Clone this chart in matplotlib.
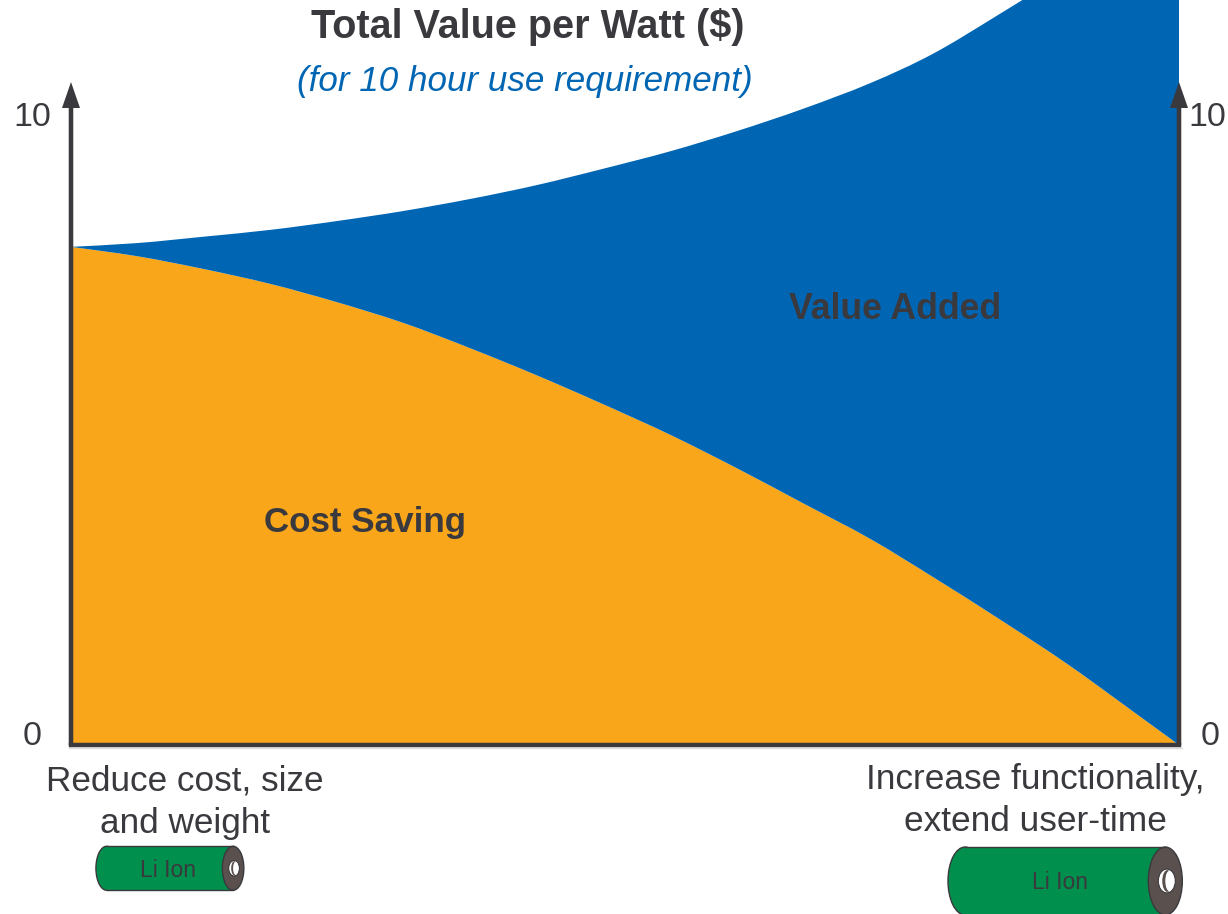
# Total value per watt chart, cost saving vs value added
import matplotlib
matplotlib.use("Agg")
import matplotlib.pyplot as plt
from matplotlib.patches import Ellipse, PathPatch, Rectangle
from matplotlib.path import Path

plt.rcParams["font.family"] = ["Liberation Sans", "DejaVu Sans"]

# === data ===
x_vals = [0, 0.6, 1.19, 1.8, 2.4, 3.0, 3.6, 4.2, 4.8, 5.41, 6.01, 6.6, 7.21, 7.78, 8.38, 8.99, 9.58, 10]
cost_saving = [7.92, 7.77, 7.57, 7.33, 7.04, 6.71, 6.31, 5.88, 5.42, 4.93, 4.40, 3.85, 3.28, 2.67, 2.00, 1.29, 0.54, 0.0]
total_value = [7.92, 7.98, 8.08, 8.19, 8.33, 8.49, 8.68, 8.90, 9.16, 9.44, 9.76, 10.11, 10.52, 10.99, 11.62, 12.29, 12.96, 13.43]

DARK = "#3a393e"
ORANGE = "#f9a61a"
BLUE = "#0066b3"
GREEN = "#008f4c"
CAP = "#5a504d"

# === figure, one unit is 110.8 px across and 62.9 px up ===
fig = plt.figure(figsize=(12.28, 9.14), dpi=100)
ax = fig.add_axes([0, 0, 1, 1])
ax.set_xlim(-71 / 110.8, 1157 / 110.8)
ax.set_ylim(-169 / 62.9, 745 / 62.9)
ax.axis("off")


# bezier segments through the read points so the edges stay smooth
def curve_segments(xs, ys):
    verts, codes = [], []
    n = len(xs)
    for i in range(n - 1):
        a, b = max(i - 1, 0), min(i + 2, n - 1)
        verts.append((xs[i] + (xs[i + 1] - xs[a]) / 6, ys[i] + (ys[i + 1] - ys[a]) / 6))
        verts.append((xs[i + 1] - (xs[b] - xs[i]) / 6, ys[i + 1] - (ys[b] - ys[i]) / 6))
        verts.append((xs[i + 1], ys[i + 1]))
        codes += [Path.CURVE4] * 3
    return verts, codes


orange_v, orange_c = curve_segments(x_vals, cost_saving)
blue_v, blue_c = curve_segments(x_vals, total_value)

verts = [(0, 0), (0, cost_saving[0])] + orange_v + [(0, 0)]
codes = [Path.MOVETO, Path.LINETO] + orange_c + [Path.CLOSEPOLY]
ax.add_patch(PathPatch(Path(verts, codes), fc=ORANGE, ec="none", lw=0))

# blue area runs along the top curve, then back down the orange curve
back_v, back_c = curve_segments(x_vals[::-1], cost_saving[::-1])
verts = [(0, total_value[0])] + blue_v + [(10, cost_saving[-1])] + back_v + [(0, total_value[0])]
codes = [Path.MOVETO] + blue_c + [Path.LINETO] + back_c + [Path.CLOSEPOLY]
ax.add_patch(PathPatch(Path(verts, codes), fc=BLUE, ec="none", lw=0))

# === axes with arrow heads ===
ax.plot([-0.02, 10.03], [-0.05, -0.05], color="#dcdcdc", lw=1)
ax.plot([0, 10], [0, 0], color=DARK, lw=3.2, solid_capstyle="projecting")
for xpos in [0, 10]:
    ax.arrow(xpos, 0, 0, 10.54, width=0.041, head_width=0.1625, head_length=0.413,
             length_includes_head=True, fc=DARK, ec="none", lw=0)

# tick labels
ax.text(-0.35, 0.14, "0", fontsize=24.5, color=DARK, ha="center", va="center")
ax.text(-0.35, 9.97, "10", fontsize=24.5, color=DARK, ha="center", va="center")
ax.text(10.28, 0.14, "0", fontsize=24.5, color=DARK, ha="center", va="center")
ax.text(10.26, 9.97, "10", fontsize=24.5, color=DARK, ha="center", va="center")

# === text ===
ax.text(4.12, 11.41, "Total Value per Watt ($)", fontsize=28.5, fontweight="bold",
        color=DARK, ha="center", va="center")
ax.text(4.10, 10.55, "(for 10 hour use requirement)", fontsize=25.2, style="italic",
        color=BLUE, ha="center", va="center")
ax.text(7.44, 6.93, "Value Added", fontsize=25.7, fontweight="bold", color=DARK,
        ha="center", va="center")
ax.text(2.65, 3.53, "Cost Saving", fontsize=25.2, fontweight="bold", color=DARK,
        ha="center", va="center")
ax.text(1.03, -0.905, "Reduce cost, size\nand weight", fontsize=25.3, color=DARK,
        ha="center", va="center", linespacing=1.37)
ax.text(8.70, -0.88, "Increase functionality,\nextend user-time", fontsize=25.4, color=DARK,
        ha="center", va="center", linespacing=1.33)


# === batteries ===
def battery(x0, x1, yc, h, cap_w, font):
    ax.add_patch(Ellipse((x0 + cap_w / 2, yc), cap_w, h, fc=GREEN, ec=DARK, lw=1))
    ax.add_patch(Rectangle((x0 + cap_w / 2, yc - h / 2), x1 - x0 - cap_w, h, fc=GREEN, ec="none"))
    ax.plot([x0 + cap_w / 2, x1 - cap_w / 2], [yc + h / 2, yc + h / 2], color=DARK, lw=1)
    ax.plot([x0 + cap_w / 2, x1 - cap_w / 2], [yc - h / 2, yc - h / 2], color=DARK, lw=1)
    ax.add_patch(Ellipse((x1 - cap_w / 2, yc), cap_w, h, fc=CAP, ec=DARK, lw=1))
    # hole in the end cap
    ax.add_patch(Ellipse((x1 - cap_w * 0.456, yc), cap_w * 0.5, h * 0.35, fc="white", ec=DARK, lw=0.8))
    ax.add_patch(Ellipse((x1 - cap_w * 0.44, yc), cap_w * 0.3, h * 0.32, fc=CAP, ec="none"))
    ax.add_patch(Ellipse((x1 - cap_w * 0.38, yc), cap_w * 0.24, h * 0.30, fc="white", ec="none"))
    ax.text((x0 + x1) / 2 - cap_w * 0.25 + 0.027, yc - 0.03, "Li Ion", fontsize=font, color=DARK,
            ha="center", va="center")


battery(0.225, 1.56, -1.96, 0.70, 0.194, 16.5)
battery(7.915, 10.03, -2.162, 1.08, 0.307, 16.5)

fig.savefig("out.png", dpi=100)
